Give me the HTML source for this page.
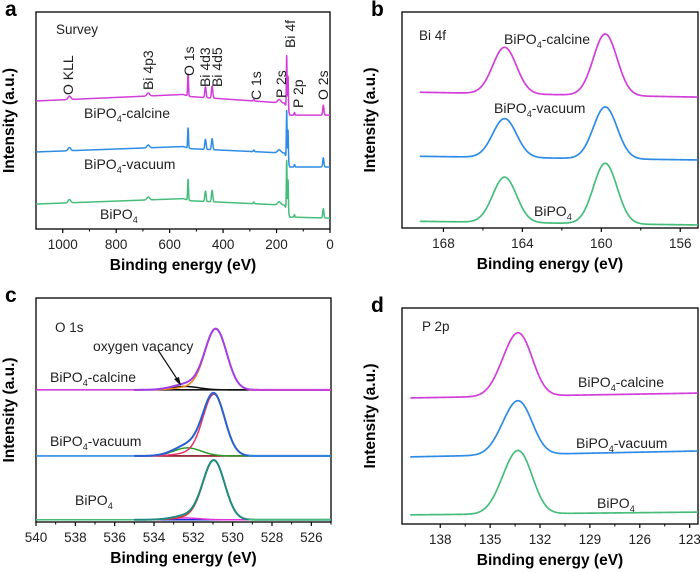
<!DOCTYPE html>
<html><head><meta charset="utf-8"><style>
body{margin:0;background:#fff}
svg{display:block;font-family:"Liberation Sans",Arial,sans-serif}
</style></head><body>
<svg id="fig" width="700" height="573" viewBox="0 0 700 573"></svg>
<script>
// ---------- Panel a: survey ----------
const aSeries = ['BiPO4-calcine','BiPO4-vacuum','BiPO4'];
const aPeakCenters = [975, 680, 531, 466, 441, 285, 190, 162, 157, 133, 25];
const aPeakHeights = [1.6, 1.4, 10, 5, 5.5, 0.8, 1.5, 24, 16, 1.2, 4.5];
const aPeakWidths  = [5, 5, 1.6, 2.5, 2.5, 2, 6, 1.3, 1.3, 1.5, 2.2];
const aBaseKnotsX = [1100, 550, 520, 170, 150, 0];
const aBaseCalcine = [59, 62, 61, 58, 52.5, 52.5];
const aBaseVacuum  = [35.5, 38, 37, 35, 28.6, 28.6];
const aBasePristine= [11.5, 14, 13, 11, 5.5, 5];
const aPeakScale = [1, 0.92, 0.95];
const aTicks = [1000, 800, 600, 400, 200, 0];

// ---------- Panel b: Bi 4f ----------
const bCenters = [164.9, 159.8];
const bWidth = [0.6, 0.6];
const bHeightsCalcine = [21.5, 28.5];
const bHeightsVacuum  = [18, 24];
const bHeightsPristine= [21, 28];
const bBaseCalcine = [63, 60.6];
const bBaseVacuum  = [33.3, 31.5];
const bBasePristine= [3.2, 1.4];
const bTicks = [168, 164, 160, 156];

// ---------- Panel c: O 1s ----------
const cMainCenters = [530.85, 530.95, 530.95];
const cMainHeights = [26.7, 27, 26];
const cVacCenters = [532.4, 532.3, 532.4];
const cVacHeights = [1.5, 3.6, 0.8];
const cBaselines = [59, 29.5, 1];
const cTicks = [540, 538, 536, 534, 532, 530, 528, 526];

// ---------- Panel d: P 2p ----------
const dCenters = [133.1, 134.0];
const dHeightsCalcine = [23, 11];
const dHeightsVacuum  = [19.5, 9.5];
const dHeightsPristine= [23, 11];
const dBaseCalcine = [58.3, 60.6];
const dBaseVacuum  = [31, 33.8];
const dBasePristine= [4.2, 5.5];
const dTicks = [138, 135, 132, 129, 126, 123];

const COLORS = ['#d23ed9', '#2e8ce6', '#46bd7b'];
const NS = 'http://www.w3.org/2000/svg';
const svg = document.getElementById('fig');
function el(tag, attrs, parent) {
  const e = document.createElementNS(NS, tag);
  for (const k in attrs) e.setAttribute(k, attrs[k]);
  (parent || svg).appendChild(e);
  return e;
}
function gauss(x, c, h, s) { return h * Math.exp(-0.5 * ((x - c) / s) ** 2); }
function interp(x, xs, ys) {
  for (let i = 0; i < xs.length - 1; i++) {
    const a = xs[i], b = xs[i + 1];
    if ((x <= a && x >= b) || (x >= a && x <= b)) return ys[i] + (ys[i + 1] - ys[i]) * (x - a) / (b - a);
  }
  return ys[ys.length - 1];
}
function makePanel(p) {
  const sx = v => p.x0 + (p.xmax - v) / (p.xmax - p.xmin) * (p.x1 - p.x0);
  const sy = v => p.y1 - v / 100 * (p.y1 - p.y0);
  p.sx = sx; p.sy = sy;
  return p;
}
function drawCurve(p, fn, from, to, step, color, name, w) {
  let d = '';
  for (let x = from; x >= to - 1e-9; x -= step) {
    d += (d ? 'L' : 'M') + p.sx(x).toFixed(2) + ',' + p.sy(fn(x)).toFixed(2);
  }
  const path = el('path', {d: d, fill: 'none', stroke: color, 'stroke-width': w || 1.6, 'stroke-linejoin': 'round'});
  
  
  return path;
}
function frame(p, letter, ticks, minor, ylabelX) {
  const g = el('g', {});
  
  
  el('rect', {x: p.x0, y: p.y0, width: p.x1 - p.x0, height: p.y1 - p.y0, fill: 'none', stroke: '#000', 'stroke-width': 1.3}, g);
  ticks.forEach(t => {
    const x = p.sx(t);
    el('line', {x1: x, x2: x, y1: p.y1, y2: p.y1 + 4, stroke: '#000', 'stroke-width': 1.2}, g);
    const tx = el('text', {x: x, y: p.y1 + 20, 'font-size': 13.5, 'text-anchor': 'middle', fill: '#222'}, g);
    tx.textContent = t;
    
    
  });
  minor.forEach(t => {
    const x = p.sx(t);
    el('line', {x1: x, x2: x, y1: p.y1, y2: p.y1 + 2.5, stroke: '#000', 'stroke-width': 1}, g);
  });
  const xl = el('text', {x: (p.x0 + p.x1) / 2, y: p.y1 + 41, 'font-size': 15.5, 'font-weight': 'bold', 'text-anchor': 'middle'}, g);
  xl.textContent = 'Binding energy (eV)';
  
  
  const cy = (p.y0 + p.y1) / 2;
  const yl = el('text', {x: ylabelX, y: cy, 'font-size': 15.5, 'font-weight': 'bold', 'text-anchor': 'middle', transform: 'rotate(-90 ' + ylabelX + ' ' + cy + ')'}, g);
  yl.textContent = 'Intensity (a.u.)';
  
  
  const lt = el('text', {x: p.x0 - 31, y: p.y0 + 4, 'font-size': 21, 'font-weight': 'bold'});
  lt.textContent = letter;
  
  
}
function label(x, y, main, sub, tail, size, name, anchor) {
  const t = el('text', {x: x, y: y, 'font-size': size || 14, fill: '#222', 'text-anchor': anchor || 'start'});
  
  
  const a = el('tspan', {}, t); a.textContent = main;
  if (sub) {
    const b = el('tspan', {'font-size': (size || 14) * 0.65, dy: 4}, t); b.textContent = sub;
    if (tail) { const c = el('tspan', {dy: -4}, t); c.textContent = tail; }
  }
  return t;
}

// ===== Panel a =====
const pa = makePanel({x0: 36, x1: 330, y0: 12, y1: 229, xmin: 0, xmax: 1100});
frame(pa, 'a', aTicks, [900, 700, 500, 300, 100], 14);
const aBases = [aBaseCalcine, aBaseVacuum, aBasePristine];
aSeries.forEach((s, i) => {
  const fn = x => {
    let v = interp(x, aBaseKnotsX, aBases[i]);
    for (let k = 0; k < aPeakCenters.length; k++) v += aPeakScale[i] * gauss(x, aPeakCenters[k], aPeakHeights[k], aPeakWidths[k]);
    return v;
  };
  drawCurve(pa, fn, 1100, 0, 0.5, COLORS[i], 'survey-line-' + ['calcine', 'vacuum', 'pristine'][i], 1.5);
});
const aAnno = [['O KLL', 73, 95], ['Bi 4p3', 153, 90], ['O 1s', 194, 76], ['Bi 4d3', 210, 87], ['Bi 4d5', 222, 87], ['C 1s', 261, 100], ['P 2s', 286, 98], ['Bi 4f', 295, 48], ['P 2p', 303, 108], ['O 2s', 328, 100]];
aAnno.forEach(a => {
  const t = el('text', {x: a[1], y: a[2], 'font-size': 14, fill: '#222', transform: 'rotate(-90 ' + a[1] + ' ' + a[2] + ')'});
  t.textContent = a[0];
  
  
});
label(56, 34, 'Survey', null, null, 13.5, 'panel-a-title');
label(84, 118, 'BiPO', '4', '-calcine', 14, 'label-calcine');
label(84, 169, 'BiPO', '4', '-vacuum', 14, 'label-vacuum');
label(100, 219, 'BiPO', '4', null, 14, 'label-pristine');

// ===== Panel b =====
const pb = makePanel({x0: 402, x1: 698, y0: 12, y1: 228, xmin: 155.1, xmax: 170.1});
frame(pb, 'b', bTicks, [166, 162, 158], 375);
const bH = [bHeightsCalcine, bHeightsVacuum, bHeightsPristine];
const bB = [bBaseCalcine, bBaseVacuum, bBasePristine];
aSeries.forEach((s, i) => {
  const fn = x => {
    let v = bB[i][0] + (bB[i][1] - bB[i][0]) * (170.1 - x) / 15;
    for (let k = 0; k < bCenters.length; k++) v += gauss(x, bCenters[k], bH[i][k], bWidth[k]);
    return v;
  };
  drawCurve(pb, fn, 169.2, 155.1, 0.05, COLORS[i], 'bi4f-line-' + ['calcine', 'vacuum', 'pristine'][i], 1.7);
});
label(419, 40, 'Bi 4f', null, null, 13.5, 'panel-b-title');
label(504, 44, 'BiPO', '4', '-calcine', 14, 'label-calcine');
label(494, 113, 'BiPO', '4', '-vacuum', 14, 'label-vacuum');
label(534, 216, 'BiPO', '4', null, 14, 'label-pristine');

// ===== Panel c =====
const pc = makePanel({x0: 36, x1: 331, y0: 298, y1: 522, xmin: 525, xmax: 540});
frame(pc, 'c', cTicks, [539, 537, 535, 533, 531, 529, 527, 525], 14);
const cEnv = ['#a23ee6', '#2a5fd0', '#1f8a7f'];
const cMainCol = ['#f08a20', '#e8336a', '#e8362e'];
const cVacCol = ['#111', '#2a9a2a', '#e030e0'];
const cBaseCol = ['#111', '#8a1020', '#1a30d0'];
aSeries.forEach((s, i) => {
  const b = cBaselines[i];
  const sm = 0.55;
  drawCurve(pc, x => b, 540, 535, 0.05, COLORS[i], 'o1s-raw-' + i, 1.6);
  drawCurve(pc, x => b, 535, 525, 0.05, cBaseCol[i], 'o1s-background-' + i, 1.6);
  drawCurve(pc, x => b + gauss(x, cVacCenters[i], cVacHeights[i], 0.7), 535, 525, 0.05, cVacCol[i], 'o1s-vacancy-component-' + i, 1.5);
  drawCurve(pc, x => b + gauss(x, cMainCenters[i], cMainHeights[i], sm) + gauss(x, 532.0, cMainHeights[i] * 0.05, 0.8), 535, 525, 0.05, cMainCol[i], 'o1s-main-component-' + i, 1.5);
  drawCurve(pc, x => b + gauss(x, cMainCenters[i], cMainHeights[i], sm) + gauss(x, 532.0, cMainHeights[i] * 0.05, 0.8) + gauss(x, cVacCenters[i], cVacHeights[i], 0.7), 535, 525, 0.05, cEnv[i], 'o1s-envelope-' + i, 2);
  drawCurve(pc, x => b, 529.2, 525, 0.05, COLORS[i], 'o1s-raw-tail-' + i, 1.6);
});
label(55, 332, 'O 1s', null, null, 13.5, 'panel-c-title');
label(93, 351, 'oxygen vacancy', null, null, 14, 'oxygen-vacancy-label');
el('line', {x1: 158, y1: 350, x2: 179, y2: 382, stroke: '#111', 'stroke-width': 1.2});
el('path', {d: 'M181,386 L174,379 L179,377 Z', fill: '#111'});
label(50, 382, 'BiPO', '4', '-calcine', 14, 'label-calcine');
label(50, 446, 'BiPO', '4', '-vacuum', 14, 'label-vacuum');
label(75, 505, 'BiPO', '4', null, 14, 'label-pristine');

// ===== Panel d =====
const pd = makePanel({x0: 402, x1: 698, y0: 308, y1: 524, xmin: 122.5, xmax: 140.3});
frame(pd, 'd', dTicks, [136.5, 133.5, 130.5, 127.5, 124.5], 375);
const dH = [dHeightsCalcine, dHeightsVacuum, dHeightsPristine];
const dB = [dBaseCalcine, dBaseVacuum, dBasePristine];
aSeries.forEach((s, i) => {
  const fn = x => {
    let v = dB[i][0] + (dB[i][1] - dB[i][0]) * (140.3 - x) / 17.8;
    for (let k = 0; k < dCenters.length; k++) v += gauss(x, dCenters[k], dH[i][k], 0.75);
    return v;
  };
  drawCurve(pd, fn, 139.8, 122.5, 0.05, COLORS[i], 'p2p-line-' + ['calcine', 'vacuum', 'pristine'][i], 1.7);
});
label(422, 331, 'P 2p', null, null, 13.5, 'panel-d-title');
label(578, 387, 'BiPO', '4', '-calcine', 14, 'label-calcine');
label(576, 448, 'BiPO', '4', '-vacuum', 14, 'label-vacuum');
label(597, 508, 'BiPO', '4', null, 14, 'label-pristine');
</script>
</body></html>
